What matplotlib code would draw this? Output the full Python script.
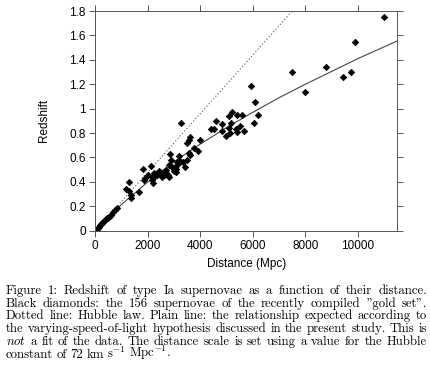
import numpy as np
import matplotlib
matplotlib.use('Agg')
import matplotlib.pyplot as plt

plt.rcParams['mathtext.fontset'] = 'cm'

# gold set supernovae (distance in Mpc, redshift)
sn_dist = [10998, 9881, 9741, 9436, 8801, 7988, 7493, 5918, 6096, 6185,
           6033, 5652, 5512, 5588, 5398, 5207, 5105, 5182, 5080, 5131,
           4966, 4826, 4839, 4597, 4509, 4407, 5347, 5410, 4000, 3277,
           3620, 3569, 3505, 3759, 3899, 3556, 3607, 3480, 3429, 3200,
           3226, 3124, 3023, 3073, 2858, 2896, 2819, 2921, 2705, 2807,
           2629, 2502, 2413, 2540, 2337, 2248, 2172, 2210, 2146, 2121,
           1994, 1854, 1829, 1905, 1676, 1283, 1181, 1270, 1346, 1359,
           813, 749, 610, 495, 406, 305, 216, 140, 76, 25,
           345, 254, 178, 102, 686, 546, 444, 2460, 2590, 2700,
           3000, 3330, 2260, 2380, 3150, 2650, 3060, 2780]
sn_z = [1.753, 1.548, 1.297, 1.262, 1.338, 1.139, 1.303, 1.188, 1.057, 0.950,
        0.882, 0.814, 0.858, 0.948, 0.948, 0.975, 0.939, 0.879, 0.838, 0.797,
        0.776, 0.819, 0.871, 0.898, 0.830, 0.830, 0.830, 0.805, 0.743, 0.885,
        0.770, 0.743, 0.716, 0.675, 0.655, 0.639, 0.620, 0.579, 0.524, 0.612,
        0.571, 0.560, 0.524, 0.483, 0.625, 0.579, 0.538, 0.524, 0.497, 0.442,
        0.459, 0.470, 0.489, 0.437, 0.456, 0.470, 0.437, 0.393, 0.415, 0.533,
        0.456, 0.415, 0.508, 0.429, 0.317, 0.396, 0.341, 0.325, 0.292, 0.270,
        0.183, 0.169, 0.128, 0.107, 0.093, 0.074, 0.055, 0.033, 0.016, 0.005,
        0.082, 0.064, 0.044, 0.024, 0.150, 0.118, 0.100, 0.480, 0.455, 0.470,
        0.490, 0.560, 0.445, 0.475, 0.545, 0.480, 0.505, 0.455]

hubble_dist = [0, 7500]
hubble_z = [0, 1.80]
vsl_dist = [0, 500, 1000, 2000, 3000, 4000, 5000, 6000, 7000, 8000, 9000, 10000, 11500]
vsl_z = [0, 0.115, 0.215, 0.40, 0.565, 0.71, 0.845, 0.97, 1.09, 1.20, 1.305, 1.41, 1.555]

xticks = [0, 2000, 4000, 6000, 8000, 10000]
yticks = [0, 0.2, 0.4, 0.6, 0.8, 1.0, 1.2, 1.4, 1.6, 1.8]

W, H = 431, 380
fig = plt.figure(figsize=(W / 100, H / 100), dpi=100)
ax = fig.add_axes([95.3 / W, 1 - 230.7 / H, 302 / W, 219.7 / H])

spine_col = '#555555'
ax.plot(hubble_dist, hubble_z, ls=(0, (1, 2)), color='#555555', lw=0.8)
ax.plot(vsl_dist, vsl_z, '-', color='#444444', lw=0.8)
ax.plot(sn_dist, sn_z, 'D', color='black', ms=3.3, mew=0.5, ls='none')

ax.set_xlim(0, 11500)
ax.set_ylim(0, 1.8)
ax.set_xticks(xticks)
ax.set_yticks(yticks)
ax.set_xticklabels([str(t) for t in xticks])
ax.set_yticklabels(['%g' % t for t in yticks])
ax.tick_params(direction='out', length=4.3, width=0.7, color=spine_col,
               labelsize=8.5, top=True, right=True, pad=2.5)
for s in ax.spines.values():
    s.set_color(spine_col)
    s.set_linewidth(0.7)
for lab in ax.get_xticklabels() + ax.get_yticklabels():
    lab.set_family('Liberation Sans')

ax.set_xlabel('Distance (Mpc)', family='Liberation Sans', fontsize=8.5, labelpad=4)
ax.set_ylabel('Redshift', family='Liberation Sans', fontsize=8.5, labelpad=14)

# caption, justified line by line
caption = [
    "Figure 1: Redshift of type Ia supernovae as a function of their distance.",
    'Black diamonds: the 156 supernovae of the recently compiled "gold set".',
    "Dotted line: Hubble law. Plain line: the relationship expected according to",
    "the varying-speed-of-light hypothesis discussed in the present study. This is",
    r"$\mathit{not}$ a fit of the data. The distance scale is set using a value for the Hubble",
    r"constant of 72 km s$^{-1}$ Mpc$^{-1}$.",
]
cap_family = ['cmr10', 'DejaVu Serif']
left_px, right_px = 6, 427
line_base = [294, 306.7, 319.4, 332.1, 344.8, 357.5]

fig.canvas.draw()
renderer = fig.canvas.get_renderer()


def word_widths(words, fs):
    out = []
    for w in words:
        t = fig.text(0, 0, w, family=cap_family, fontsize=fs)
        out.append(t.get_window_extent(renderer).width)
        t.remove()
    return out


for i, line in enumerate(caption):
    words = line.split(' ')
    fs = 9.2
    widths = word_widths(words, fs)
    if i < len(caption) - 1:
        gap = (right_px - left_px - sum(widths)) / (len(words) - 1)
        while gap < 3.3:
            fs -= 0.1
            widths = word_widths(words, fs)
            gap = (right_px - left_px - sum(widths)) / (len(words) - 1)
    else:
        gap = 3.4
    x = left_px
    for w, wd in zip(words, widths):
        fig.text(x / W, 1 - line_base[i] / H, w, va='baseline', ha='left',
                 family=cap_family, fontsize=fs)
        x += wd + gap

fig.savefig('out.png', dpi=100)
